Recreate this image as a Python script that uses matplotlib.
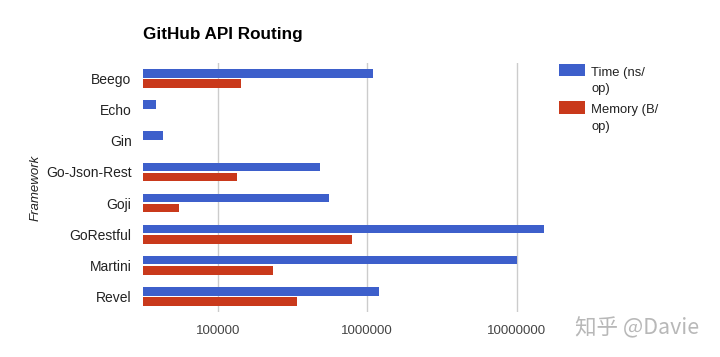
import matplotlib
matplotlib.use("Agg")
import matplotlib.pyplot as plt
import matplotlib.ticker as mticker
from matplotlib.offsetbox import TextArea
import numpy as np

frameworks = ["Beego", "Echo", "Gin", "Go-Json-Rest", "Goji", "GoRestful", "Martini", "Revel"]
time_ns = [1097000, 38300, 43100, 482000, 551000, 15350000, 10070000, 1197000]
memory_b = [143000, np.nan, np.nan, 134700, 55100, 785000, 235000, 340000]
xticks = [100000, 1000000, 10000000]

blue = "#3d5fcb"
red = "#c9391b"

plt.rcParams['font.family'] = ['Liberation Sans', 'DejaVu Sans']

def main():
    fig = plt.figure(figsize=(7.2, 3.57), dpi=100)
    ax = fig.add_axes([142.7 / 720, 1 - 312 / 357, (548 - 142.7) / 720, 249 / 357])

    y = np.arange(len(frameworks))
    h = 0.27
    ax.barh(y - h / 2 - 0.03, time_ns, height=h, color=blue, label="Time (ns/\nop)", zorder=3)
    ax.barh(y + h / 2 + 0.03, memory_b, height=h, color=red, label="Memory (B/\nop)", zorder=3)

    ax.set_xscale("log")
    ax.set_xlim(31300, 10 ** (5 + (548 - 218) / 149.3))
    ax.set_ylim(len(frameworks) - 0.5, -0.5)
    ax.set_yticks(y)
    ax.set_yticklabels(frameworks, fontsize=10, color="#222222")
    ax.set_xticks(xticks)
    ax.xaxis.set_major_formatter(mticker.FuncFormatter(lambda v, p: "%d" % v))
    ax.xaxis.set_minor_locator(mticker.NullLocator())
    ax.tick_params(axis="x", labelsize=9.5, colors="#444444", length=0, pad=9)
    ax.tick_params(axis="y", length=0, pad=8)
    ax.grid(axis="x", color="#cccccc", linewidth=1, zorder=0)
    for s in ax.spines.values():
        s.set_visible(False)

    ax.set_ylabel("Framework", fontsize=9.5, style="italic", color="#222222", labelpad=3)

    fig.text(142.7 / 720, 1 - 34 / 357, "GitHub API Routing", fontsize=12.3,
             fontweight="bold", color="#000000", va="center", ha="left")

    # legend: handle lined up with the first line of a wrapped label
    leg = ax.legend(loc="upper left", bbox_to_anchor=(547.5 / 720, 1 - 55 / 357),
                    bbox_transform=fig.transFigure, frameon=False, fontsize=9.4,
                    handlelength=1.97, handleheight=0.7, handletextpad=0.5,
                    labelspacing=0.70)
    for t in leg.get_texts():
        t.set_color("#222222")
        t.set_linespacing(1.5)
    for ta in leg.findobj(lambda a: isinstance(a, TextArea)):
        ta._multilinebaseline = False
    for p in leg.get_patches():
        p.set_y(11.4)
        p.set_height(9.1)

    fig.text(575 / 720, 1 - 328 / 357, "知乎 @Davie", fontsize=15.5, color="#b8b8b8",
             va="center", ha="left", family=['Noto Sans CJK SC', 'DejaVu Sans'])

    fig.savefig("out.png", dpi=100)

if __name__ == "__main__":
    main()
